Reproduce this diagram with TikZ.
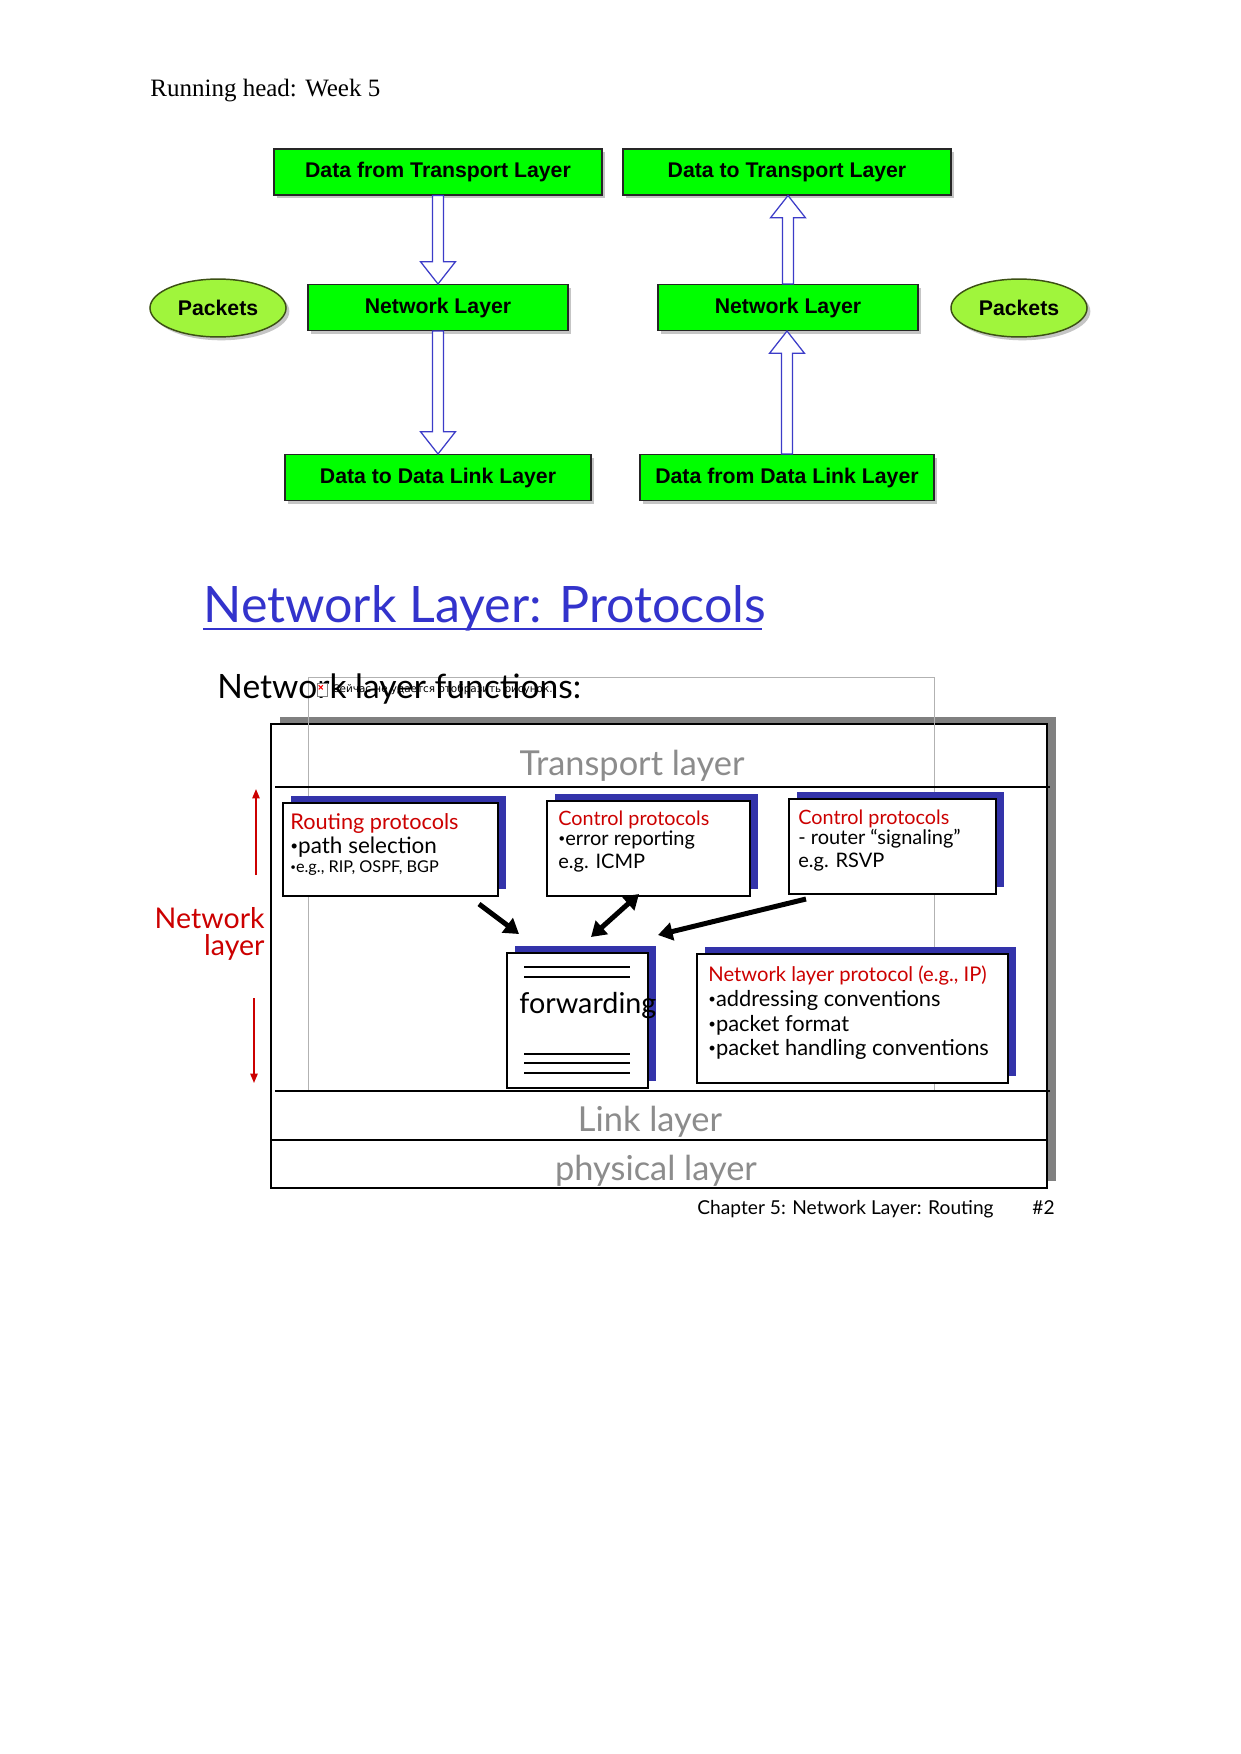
\documentclass[tikz,border=0pt]{standalone}
\usepackage{fontspec}
\setmainfont{Liberation Serif}
\newfontfamily\arialf{Liberation Sans}
\newfontfamily\comicf{Lato}
\newfontfamily\smallf{DejaVu Sans}
\usetikzlibrary{arrows.meta,shadows,calc,shapes.geometric}
\definecolor{boxgreen}{RGB}{0,255,0}
\definecolor{pkfill}{RGB}{160,245,60}
\definecolor{pkline}{RGB}{60,80,20}
\definecolor{hollowblue}{RGB}{60,60,200}
\definecolor{shadowblue}{RGB}{51,51,170}
\definecolor{titleblue}{RGB}{51,51,204}
\definecolor{slidered}{RGB}{204,0,0}
\definecolor{layergray}{RGB}{140,140,140}
\definecolor{framegray}{RGB}{128,128,128}
\newcommand{\sbul}{\raisebox{0.12em}{\scalebox{0.6}{•}}}
\newcommand{\hollowdown}[2]{%
  \draw[hollow] let \p1=(#1), \p2=(#2) in
   (\x1-2.6pt,\y1) -- (\x1-2.6pt,\y2+10.7pt) -- (\x1-8.4pt,\y2+10.7pt) -- (\x1,\y2)
   -- (\x1+8.4pt,\y2+10.7pt) -- (\x1+2.6pt,\y2+10.7pt) -- (\x1+2.6pt,\y1) -- cycle;}
\newcommand{\hollowup}[2]{%
  \draw[hollow] let \p1=(#1), \p2=(#2) in
   (\x1-2.6pt,\y1) -- (\x1-2.6pt,\y2-10.7pt) -- (\x1-8.4pt,\y2-10.7pt) -- (\x1,\y2)
   -- (\x1+8.4pt,\y2-10.7pt) -- (\x1+2.6pt,\y2-10.7pt) -- (\x1+2.6pt,\y1) -- cycle;}
\begin{document}
\begin{tikzpicture}[x=0.48pt,y=-0.48pt,
  gbox/.style={draw=black!85, line width=0.6pt, fill=boxgreen, minimum height=22pt, inner sep=0pt,
    font=\arialf\bfseries\fontsize{10.2}{12}\selectfont,
    drop shadow={shadow xshift=1.6pt, shadow yshift=-1.6pt, fill=black!45, opacity=0.5}},
  pell/.style={ellipse, draw=pkline, line width=0.7pt, fill=pkfill, minimum width=65.3pt, minimum height=27.8pt, inner sep=0pt,
    font=\arialf\bfseries\fontsize{10.2}{12}\selectfont,
    drop shadow={shadow xshift=1.6pt, shadow yshift=-1.6pt, fill=black!45, opacity=0.5}},
  hollow/.style={draw=hollowblue, fill=white, line width=0.6pt, line join=miter},
  pbox/.style={draw=black, line width=1.1pt, fill=white, inner sep=0pt, anchor=north west,
    drop shadow={shadow xshift=3.9pt, shadow yshift=3.2pt, fill=shadowblue, opacity=1}},
  txt/.style={inner sep=0pt, anchor=base west},
  cf/.style={font=\comicf\fontsize{#1}{#1}\selectfont},
  blk/.style={line width=2.4pt, -{Triangle[length=7pt,width=8.5pt]}},
  redarr/.style={slidered, line width=0.8pt, -{Triangle[length=4.5pt,width=3.5pt]}}
]
\useasboundingbox[fill=white] (0,0) rectangle (1241,1754);

% running head
\node[txt, font=\fontsize{12}{14}\selectfont] (rh) at (150,96) {Running head: Week 5};

% ---------- upper diagram ----------
\node[gbox, minimum width=157.4pt] (dft) at (438,172) {Data from Transport Layer};
\node[gbox, minimum width=157.4pt] (dtt) at (787,172) {Data to Transport Layer};
\node[gbox, minimum width=124.8pt] (nl1) at (438,307.5) {Network Layer};
\node[gbox, minimum width=124.8pt] (nl2) at (788,307.5) {Network Layer};
\node[gbox, minimum width=146.9pt] (dtd) at (438,477.5) {Data to Data Link Layer};
\node[gbox, minimum width=141.1pt] (dfd) at (787,477.5) {Data from Data Link Layer};
\node[pell] (pk1) at (218,308) {Packets};
\node[pell] (pk2) at (1019,308) {Packets};

\hollowdown{dft.south}{nl1.north}
\hollowdown{nl1.south}{dtd.north}
\hollowup{nl2.north}{dtt.south}
\hollowup{dfd.north}{nl2.south}

% ---------- title ----------
\node[txt, cf=24.1, text=titleblue] (title) at (203,622) {Network Layer: Protocols};
\draw[titleblue, line width=1.4pt] (203,629) -- (762,629);

% ---------- slide frame ----------
\node[draw=black, line width=1pt, fill=white, anchor=north west, inner sep=0pt,
  minimum width=372.5pt, minimum height=222.7pt,
  drop shadow={shadow xshift=4.3pt, shadow yshift=3.4pt, fill=framegray, opacity=1}] (stack) at (270,723) {};
\draw[black!30, line width=0.4pt] (308,677) rectangle (934,1091);
\draw[line width=1.1pt] (275,787) -- (1050,787);
\draw[line width=1.1pt] (275,1091) -- (1050,1091);
\draw[line width=1.1pt] (272,1140) -- (1046,1140);

\node[txt, cf=16.1] (nlf) at (217,698) {Network layer functions:};
% broken image icon + caption
\node[draw=black!50, fill=white, line width=0.4pt, inner sep=0pt, minimum width=4.8pt, minimum height=6.2pt] (icon) at (322,690) {};
\draw[red, line width=0.5pt] ($(icon.north west)+(1pt,-1pt)$) -- ($(icon.north west)+(3pt,-3pt)$)
  ($(icon.north west)+(3pt,-1pt)$) -- ($(icon.north west)+(1pt,-3pt)$);
\node[anchor=west, inner sep=0pt, font=\smallf\fontsize{5}{6}\selectfont] (ph) at (332,690) {Сейчас не удается отобразить рисунок.};

\node[txt, cf=16.5, text=layergray, anchor=base] (tl) at (632,775) {Transport layer};
\node[txt, cf=16.5, text=layergray, anchor=base] (ll) at (650,1131) {Link layer};
\node[txt, cf=16.5, text=layergray, anchor=base] (pl) at (656,1180) {physical layer};

% red side label
\node[txt, cf=13.7, text=slidered, anchor=base east] (nw1) at (265,928) {Network};
\node[txt, cf=13.7, text=slidered, anchor=base east] (nw2) at (265,955) {layer};
\coordinate (r1s) at (256,875); \coordinate (r1e) at (256,789);
\coordinate (r2s) at (254,998); \coordinate (r2e) at (254,1083);
\draw[redarr] (r1s) -- (r1e);
\draw[redarr] (r2s) -- (r2e);

% protocol boxes
\node[pbox, minimum width=103.2pt, minimum height=44.6pt] (rout) at (282,802) {};
\node[txt, cf=10.4, text=slidered] (rt1) at (290,829) {Routing protocols};
\node[txt, cf=10.8] (rt2) at (290,853) {\sbul path selection};
\node[txt, cf=7.8] (rt3) at (290,872) {\sbul e.g., RIP, OSPF, BGP};

\node[pbox, minimum width=97.4pt, minimum height=45.6pt] (ctl1) at (546,800) {};
\node[txt, cf=9.5, text=slidered] (c1a) at (558,825) {Control protocols};
\node[txt, cf=9.6] (c1b) at (558,845) {\sbul error reporting};
\node[txt, cf=9.6] (c1c) at (558,868) {e.g. ICMP};

\node[pbox, minimum width=99.4pt, minimum height=45.6pt] (ctl2) at (788,798) {};
\node[txt, cf=9.5, text=slidered] (c2a) at (798,824) {Control protocols};
\node[txt, cf=9.6] (c2b) at (798,844) {- router “signaling”};
\node[txt, cf=9.6] (c2c) at (798,867) {e.g. RSVP};

\node[pbox, minimum width=67.7pt, minimum height=64.8pt] (fwd) at (506,952) {};
\foreach \yy in {967,977,1054,1063,1073} \draw[line width=0.9pt] (524,\yy) -- (630,\yy);
\node[txt, cf=13.8] (fwt) at (519,1013) {forwarding};

\node[pbox, minimum width=149.3pt, minimum height=61.9pt] (nlp) at (696,953) {};
\node[txt, cf=9.7, text=slidered] (n1) at (708,981) {Network layer protocol (e.g., IP)};
\node[txt, cf=10.5] (n2) at (708,1006) {\sbul addressing conventions};
\node[txt, cf=10.5] (n3) at (708,1031) {\sbul packet format};
\node[txt, cf=10.5] (n4) at (708,1055) {\sbul packet handling conventions};

% black arrows
\coordinate (a1s) at (479,904); \coordinate (a1e) at (519,934);
\coordinate (a2s) at (591,937); \coordinate (a2e) at (639,894);
\coordinate (a3s) at (806,899); \coordinate (a3e) at (658,935);
\draw[blk] (a1s) -- (a1e);
\draw[blk, {Triangle[length=7pt,width=8.5pt]}-{Triangle[length=7pt,width=8.5pt]}] (a2s) -- (a2e);
\draw[blk] (a3s) -- (a3e);

% footer
\node[txt, cf=9.2] (foot) at (697,1214) {Chapter 5: Network Layer: Routing};
\node[txt, cf=9.2] (num) at (1032,1214) {\#2};
\end{tikzpicture}
\end{document}
